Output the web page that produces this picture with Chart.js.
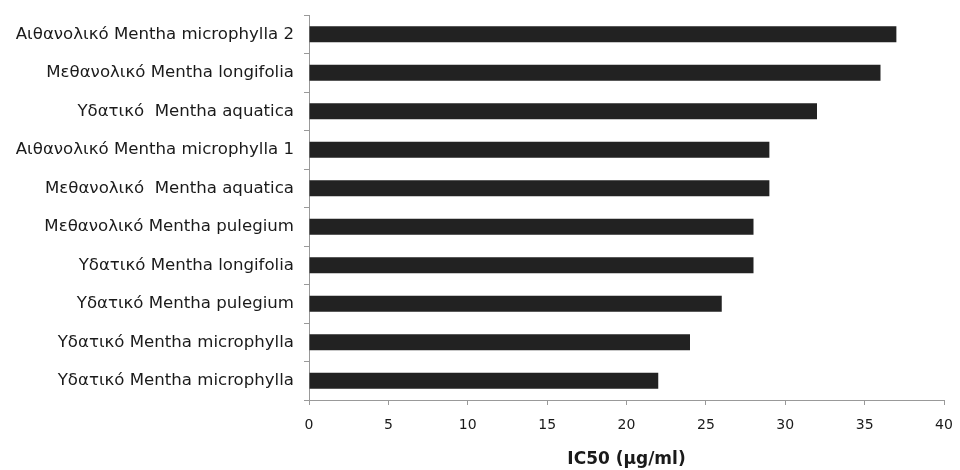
<!DOCTYPE html>
<html>
<head>
<meta charset="utf-8">
<script src="https://cdn.jsdelivr.net/npm/chart.js@4"></script>
<style>
  html, body { margin:0; padding:0; background:#fff; }
  #wrap { width:960px; height:470px; }
</style>
</head>
<body>
<div id="wrap"><canvas id="chart" width="960" height="470"></canvas></div>
<script>
// Extract names (top to bottom) and IC50 values
const labels = [
    "Αιθανολικό Mentha microphylla 2",
    "Μεθανολικό Mentha longifolia",
    "Υδατικό  Mentha aquatica",
    "Αιθανολικό Mentha microphylla 1",
    "Μεθανολικό  Mentha aquatica",
    "Μεθανολικό Mentha pulegium",
    "Υδατικό Mentha longifolia",
    "Υδατικό Mentha pulegium",
    "Υδατικό Mentha microphylla",
    "Υδατικό Mentha microphylla"
];
const ic50 = [37, 36, 32, 29, 29, 28, 28, 26, 24, 22];
const xTicks = [0, 5, 10, 15, 20, 25, 30, 35, 40];
const axisTitle = "IC50 (μg/ml)";

window.onload = function() {
    const ctx = document.getElementById("chart").getContext("2d");
    Chart.defaults.font.family = "'DejaVu Sans', sans-serif";
    Chart.defaults.color = "#1a1a1a";

    new Chart(ctx, {
        type: 'bar',
        data: {
            labels: labels,
            datasets: [{ data: ic50, backgroundColor: '#222222', borderWidth: 0,
                         categoryPercentage: 1, barPercentage: 0.42 }]
        },
        options: {
            indexAxis: 'y',
            responsive: false,
            animation: false,
            layout: { padding: { top: 15, right: 16, left: 0, bottom: 0 } },
            plugins: { legend: { display: false }, tooltip: { enabled: false } },
            scales: {
                x: {
                    min: xTicks[0], max: xTicks[xTicks.length - 1],
                    afterBuildTicks: s => { s.ticks = xTicks.map(v => ({ value: v })); },
                    grid: { drawOnChartArea: false, color: '#999', tickLength: 5 },
                    border: { color: '#999' },
                    ticks: { font: { size: 14 }, padding: 12 },
                    title: { display: true, text: axisTitle, font: { size: 17, weight: 'bold' },
                             padding: { top: 8, bottom: 0 } },
                    afterFit: s => { s.height = 70; s.paddingLeft = 0; s.paddingRight = 0; }
                },
                y: {
                    grid: { drawOnChartArea: false, color: '#999', tickLength: 5, offset: true },
                    border: { color: '#999' },
                    ticks: { font: { size: 16.6 }, padding: 10, autoSkip: false },
                    afterFit: s => { s.width = 309; s.paddingTop = 0; s.paddingBottom = 0; }
                }
            }
        }
    });
};
</script>
</body>
</html>
